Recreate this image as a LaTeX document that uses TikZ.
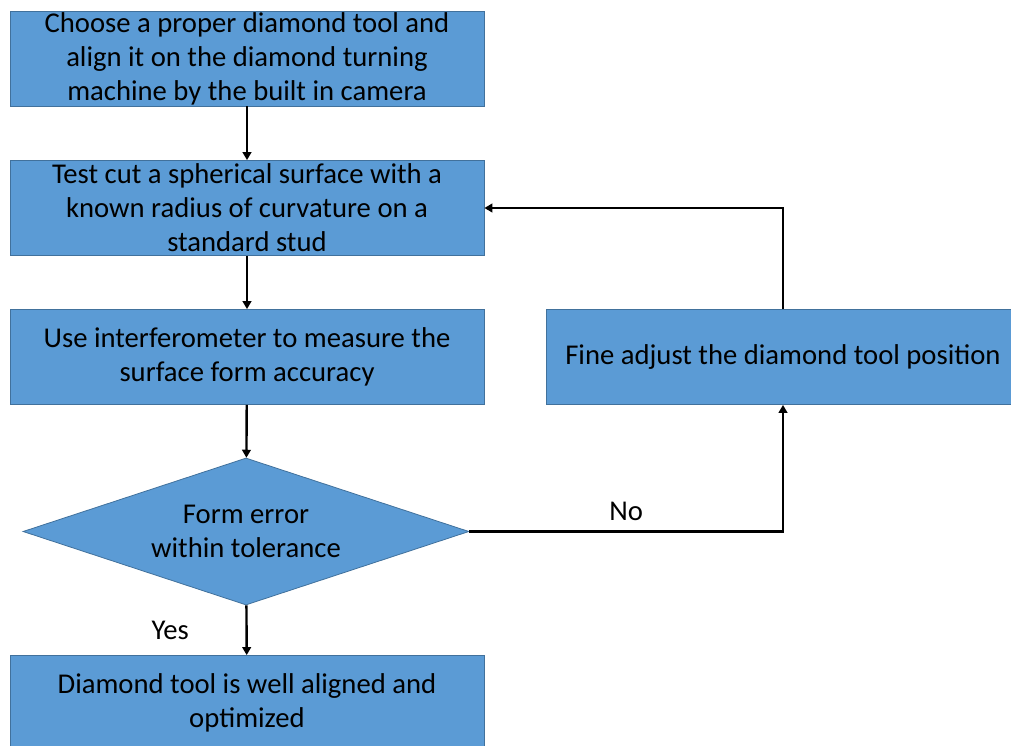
\documentclass[tikz,border=0pt]{standalone}
\usepackage{fontspec}
\setmainfont{Carlito}
\usetikzlibrary{shapes.geometric,arrows.meta}
\definecolor{boxblue}{HTML}{5B9BD5}
\definecolor{boxline}{HTML}{41719C}
\tikzset{
  stepbox/.style={draw=boxline, fill=boxblue, line width=0.6pt, minimum width=355.5pt, minimum height=71.25pt, inner sep=0pt, align=center},
  decision/.style={diamond, aspect=3, draw=boxline, fill=boxblue, line width=0.6pt, minimum width=334.5pt, minimum height=110.25pt, inner sep=0pt, align=center},
  flow/.style={line width=1.8pt, -{Triangle[length=6pt, width=6.5pt]}}
}
\begin{document}
\begin{tikzpicture}[x=0.75pt, y=-0.75pt, font=\fontsize{21.5}{25.5}\selectfont]
        \useasboundingbox (0,0) rectangle (1011,746);

        \node[stepbox] (choose) at (247,58.5) {Choose a proper diamond tool and\\align it on the diamond turning\\machine by the built in camera};
        \node[stepbox] (cut) at (247,208) {Test cut a spherical surface with a\\known radius of curvature on a\\standard stud};
        \node[stepbox] (measure) at (247,357) {Use interferometer to measure the\\surface form accuracy};
        \node[decision] (check) at (246,531.5) {Form error\\within tolerance};
        \node[stepbox] (done) at (247,703) {Diamond tool is well aligned and\\optimized};
        \node[stepbox] (adjust) at (783,357) {Fine adjust the diamond tool position};

        \draw[flow] (choose) -- (cut);
        \draw[flow] (cut) -- (measure);
        \draw[flow] (measure) -- (check);
        \draw[flow] (check) -- node[midway, left=39pt] {Yes} (done);
        \draw[flow] (check.east) -| node[pos=0.25, above=4pt] {No} (adjust);
        \draw[flow] (adjust) |- (cut);
      \end{tikzpicture}
\end{document}
